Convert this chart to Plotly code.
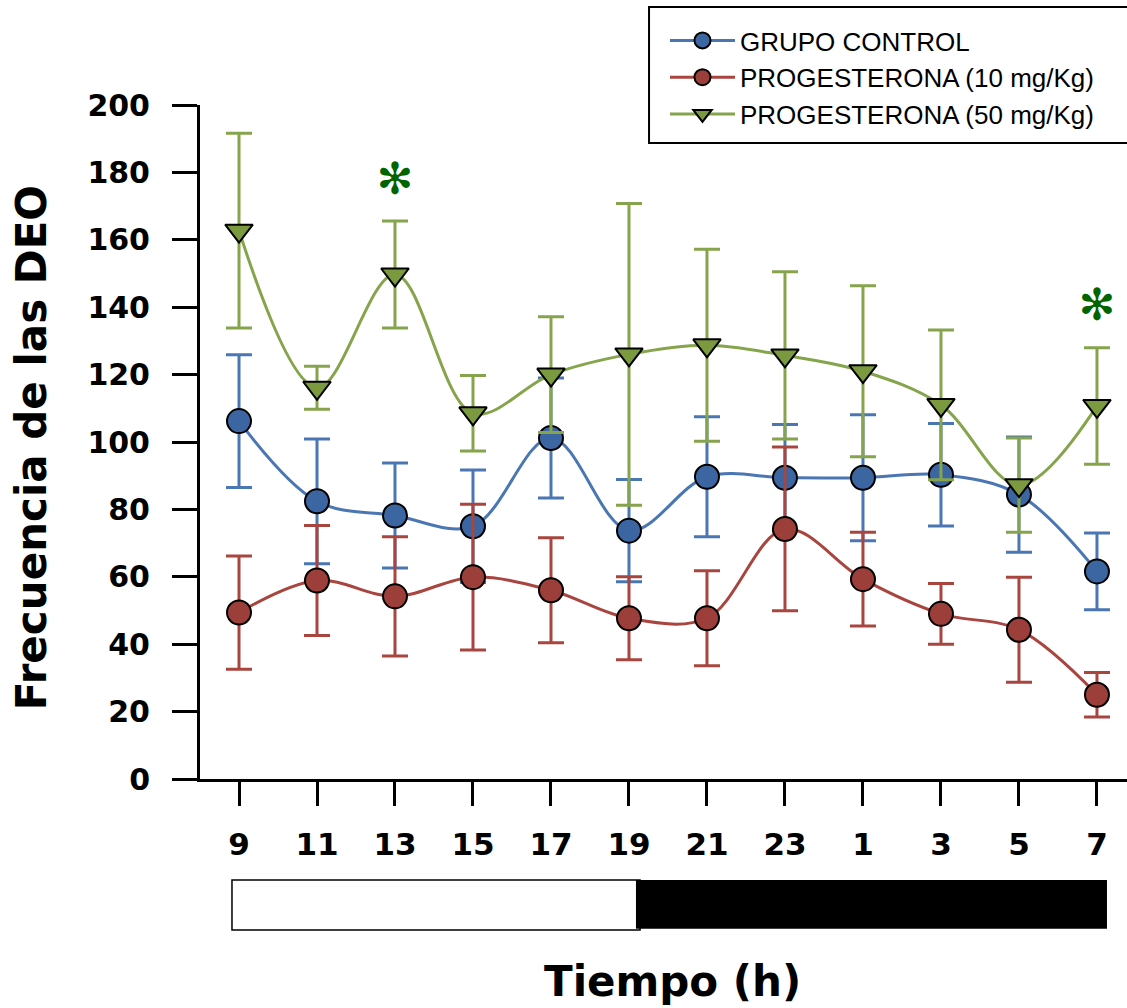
import plotly.graph_objects as go

hours = ["9", "11", "13", "15", "17", "19", "21", "23", "1", "3", "5", "7"]

control_mean = [106.2, 82.4, 78.2, 75.0, 101.2, 73.7, 89.7, 89.4, 89.4, 90.3, 84.4, 61.6]
control_err = [19.7, 18.5, 15.6, 16.7, 17.8, 15.2, 17.8, 15.8, 18.7, 15.2, 17.1, 11.4]

p10_mean = [49.4, 58.9, 54.2, 59.9, 56.0, 47.7, 47.7, 74.2, 59.3, 49.0, 44.3, 25.0]
p10_err = [16.8, 16.3, 17.7, 21.6, 15.6, 12.3, 14.1, 24.3, 13.9, 9.0, 15.6, 6.6]

p50_mean = [162.7, 116.1, 149.7, 108.5, 120.0, 126.0, 128.7, 125.7, 121.0, 111.0, 87.2, 110.7]
p50_err = [28.9, 6.4, 15.9, 11.2, 17.2, 44.8, 28.5, 24.8, 25.4, 22.2, 14.0, 17.3]

sig_hours = ["13", "7"]
sig_y = [177.0, 139.4]

names = ["GRUPO CONTROL", "PROGESTERONA (10 mg/Kg)", "PROGESTERONA (50 mg/Kg)"]

BOLD = "DejaVu Sans"

fig = go.Figure()

series = [
    (control_mean, control_err, names[0], "circle", "#3C66A1", "#4A77B3"),
    (p10_mean, p10_err, names[1], "circle", "#9C3F3A", "#A8453F"),
    (p50_mean, p50_err, names[2], "triangle-down", "#7B9A3F", "#86A44C"),
]
for mean, err, name, sym, fill, lc in series:
    fig.add_trace(go.Scatter(
        x=hours, y=mean, name=name, mode="lines+markers",
        line=dict(color=lc, width=3, shape="spline", smoothing=1.0),
        marker=dict(symbol=sym, size=24, color=fill,
                    line=dict(color="black", width=2)),
        error_y=dict(type="data", array=err, visible=True, color=lc,
                     thickness=3, width=13),
        cliponaxis=False,
    ))

fig.add_trace(go.Scatter(
    x=sig_hours, y=sig_y, mode="text", text=["✻", "✻"],
    textfont=dict(family=BOLD, size=44, color="#006400"),
    showlegend=False, hoverinfo="skip", cliponaxis=False,
))

# day / night bar
fig.add_shape(type="rect", xref="paper", yref="paper",
              x0=0.0345, x1=0.4747, y0=-0.224, y1=-0.1499,
              line=dict(color="black", width=1.5), fillcolor="white")
fig.add_shape(type="rect", xref="paper", yref="paper",
              x0=0.4703, x1=0.9784, y0=-0.222, y1=-0.1499,
              line=dict(color="black", width=0), fillcolor="black")

# legend frame
fig.add_shape(type="rect", xref="paper", yref="paper",
              x0=0.4844, x1=1.03, y0=0.9436, y1=1.1454,
              line=dict(color="black", width=2), fillcolor="rgba(0,0,0,0)")

fig.add_annotation(text="Frecuencia de las DEO", xref="paper", yref="paper",
                   x=-0.182, y=0.491, textangle=-90, showarrow=False,
                   xanchor="center", yanchor="middle",
                   font=dict(family=BOLD, size=42, color="black", weight="bold"))
fig.add_annotation(text="Tiempo (h)", xref="paper", yref="paper",
                   x=0.510, y=-0.301, showarrow=False,
                   xanchor="center", yanchor="middle",
                   font=dict(family=BOLD, size=42, color="black", weight="bold"))

fig.update_layout(
    width=1127, height=1008,
    margin=dict(l=200, r=0, t=105, b=229),
    paper_bgcolor="white", plot_bgcolor="white",
    showlegend=True,
    legend=dict(x=0.5016, y=1.1306, xanchor="left", yanchor="top",
                borderwidth=0, bgcolor="rgba(0,0,0,0)",
                font=dict(family="Liberation Sans", size=26, color="black"),
                itemwidth=65, tracegroupgap=0),
    xaxis=dict(type="category", categoryorder="array", categoryarray=hours,
               range=[-0.5, 11.385], showline=True, linecolor="black", linewidth=3,
               ticks="outside", ticklen=24, tickwidth=3, tickcolor="black",
               showgrid=False, zeroline=False, ticklabelstandoff=12,
               tickfont=dict(family=BOLD, size=31, color="black", weight="bold")),
    yaxis=dict(range=[0, 200], tickvals=[0, 20, 40, 60, 80, 100, 120, 140, 160, 180, 200],
               showline=True, linecolor="black", linewidth=3,
               ticks="outside", ticklen=25, tickwidth=3, tickcolor="black",
               showgrid=False, zeroline=False, ticklabelstandoff=16,
               tickfont=dict(family=BOLD, size=30, color="black", weight="bold")),
)

fig.write_html("out.html")
